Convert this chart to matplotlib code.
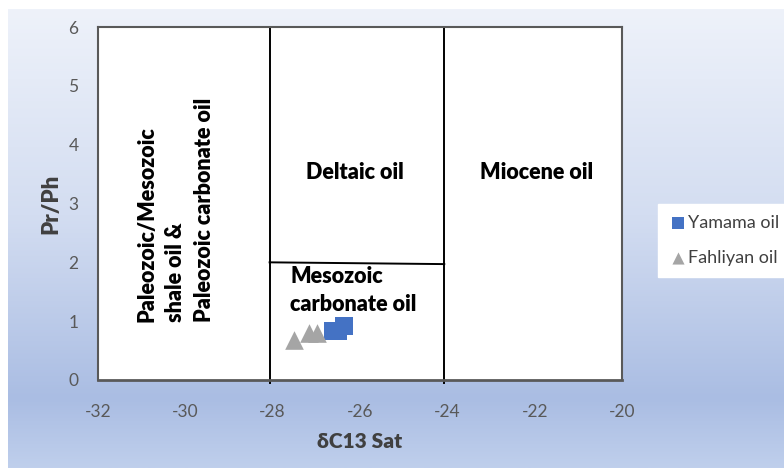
import numpy as np
import matplotlib
matplotlib.use("Agg")
import matplotlib.pyplot as plt
from matplotlib.colors import LinearSegmentedColormap

# sample data
yamama_x = [-26.62, -26.50, -26.36]
yamama_y = [0.83, 0.83, 0.91]
fahliyan_x = [-27.51, -27.17, -26.99]
fahliyan_y = [0.68, 0.80, 0.80]

# field boundaries (as drawn in the source chart)
bound_x = [-28.07, -24.07]
bound_split_x = [-28.07, -24.07]
bound_split_y = [2.0, 1.97]

xticks = [-32, -30, -28, -26, -24, -22, -20]
yticks = [0, 1, 2, 3, 4, 5, 6]

plt.rcParams['font.family'] = ['Lato', 'DejaVu Sans']
plt.rcParams['axes.unicode_minus'] = False
grey = '#595959'

fig = plt.figure(figsize=(7.84, 4.68), dpi=100)

# gradient background panel
bg = fig.add_axes([8 / 784, 0, 1, 1 - 9 / 468], zorder=-10)
cmap = LinearSegmentedColormap.from_list(
    'bg', [(0.0, '#eef2fa'), (0.45, '#d3ddf1'), (0.85, '#aabde3'), (1.0, '#bfcfec')])
grad = np.linspace(0, 1, 256).reshape(-1, 1)
bg.imshow(grad, aspect='auto', cmap=cmap, extent=[0, 1, 1, 0])
bg.set_axis_off()

ax = fig.add_axes([98 / 784, 88 / 468, 524 / 784, 353 / 468])
ax.set_facecolor('white')

ax.scatter(yamama_x, yamama_y, marker='s', s=160, color='#4472C4',
           label='Yamama oil', zorder=3, linewidths=0)
ax.scatter(fahliyan_x, fahliyan_y, marker='^', s=180, color='#A5A5A5',
           label='Fahliyan oil', zorder=3, linewidths=0)

for bx in bound_x:
    ax.plot([bx, bx], [-0.05, 6], color='black', lw=1.4, clip_on=False, zorder=2)
ax.plot(bound_split_x, bound_split_y, color='black', lw=1.4, zorder=2)

ax.set_xlim(-32, -20)
ax.set_ylim(0, 6)
ax.set_xticks(xticks)
ax.set_yticks(yticks)
ax.tick_params(length=0, labelsize=12.5, labelcolor=grey)
ax.tick_params(axis='x', pad=17)
ax.tick_params(axis='y', pad=14)

for side in ['left', 'top', 'right']:
    ax.spines[side].set_color(grey)
    ax.spines[side].set_linewidth(1.5)
ax.spines['bottom'].set_color(grey)
ax.spines['bottom'].set_linewidth(2)

ax.set_xlabel('δC13 Sat', fontsize=15, fontweight='heavy', color='#404040', labelpad=9)
ax.set_ylabel('Pr/Ph', fontsize=16, fontweight='heavy', color='#404040', labelpad=5)

tkw = dict(fontsize=15.5, fontweight='heavy', color='black')
ax.text(-26.11, 3.52, 'Deltaic oil', ha='center', va='center', **tkw)
ax.text(-21.95, 3.52, 'Miocene oil', ha='center', va='center', **tkw)
ax.text(-27.6, 1.52, 'Mesozoic\ncarbonate oil', ha='left', va='center',
        linespacing=1.45, **tkw)
ax.text(-30.22, 0.99, 'Paleozoic/Mesozoic\nshale oil &\nPaleozoic carbonate oil',
        rotation=90, ha='center', va='bottom', multialignment='left',
        linespacing=1.45, **tkw)

leg = fig.legend(loc='upper left', bbox_to_anchor=(658 / 784, 1 - 204 / 468),
                 frameon=True, fancybox=False, fontsize=13, handletextpad=0.05,
                 handlelength=1.0, labelspacing=1.05, borderpad=0.6,
                 borderaxespad=0, markerscale=0.65)
leg.get_frame().set_edgecolor('white')
leg.get_frame().set_facecolor('white')
leg.get_frame().set_alpha(1)
for t in leg.get_texts():
    t.set_color('#404040')

fig.savefig('out.png', dpi=100)
